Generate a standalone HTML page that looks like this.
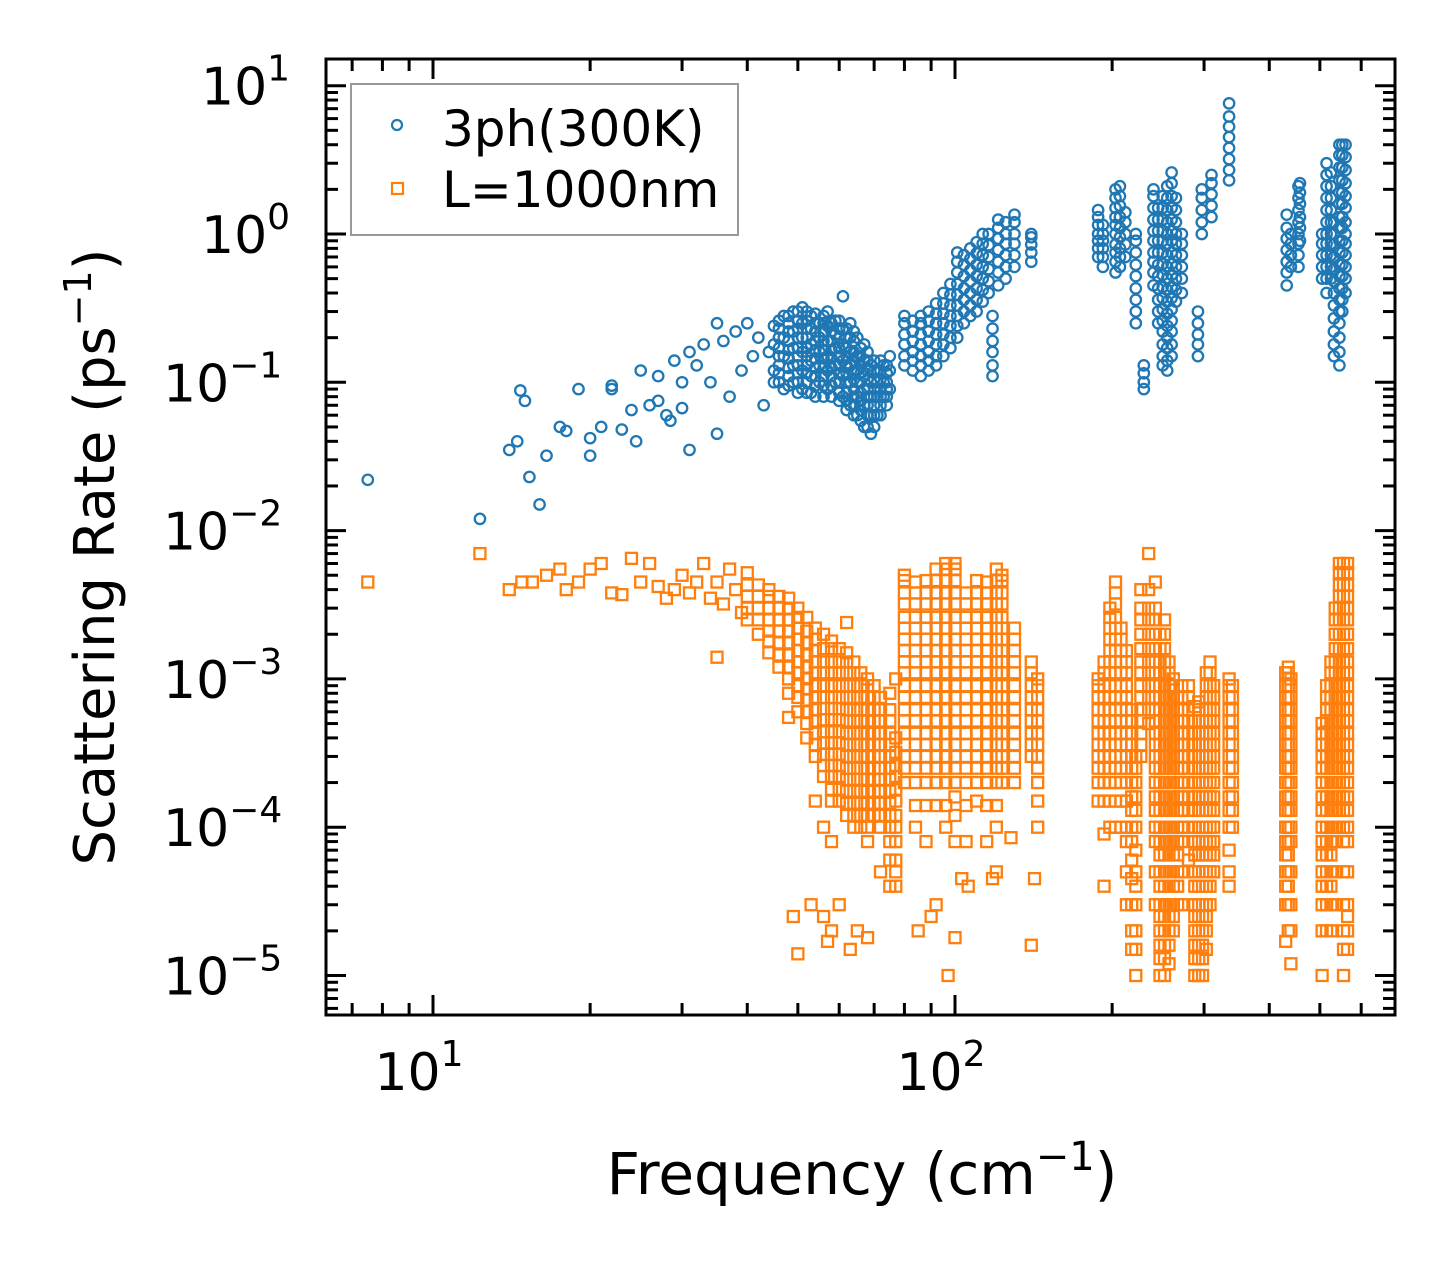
<!DOCTYPE html>
<html><head><meta charset="utf-8"><style>
body{margin:0;background:#fff;}
svg text{font-family:"DejaVu Sans","Liberation Sans",sans-serif;fill:#000;}
</style></head><body>
<svg id="chart" width="1455" height="1265" viewBox="0 0 1455 1265" xmlns="http://www.w3.org/2000/svg">
<rect width="1455" height="1265" fill="#fff"/>
<g id="marks"></g>
<g id="axes"></g>
<g>
<rect x="351" y="84" width="387" height="151" fill="#fff" stroke="#999" stroke-width="2"/>
<circle cx="397" cy="125" r="5" fill="none" stroke="#1f77b4" stroke-width="2.2"/>
<text x="442" y="146" font-size="50">3ph(300K)</text>
<rect x="392" y="183" width="11" height="11" fill="none" stroke="#ff7f0e" stroke-width="2.2"/>
<text x="442" y="207" font-size="50">L=1000nm</text>
</g>
<text x="862" y="1194" font-size="58" text-anchor="middle">Frequency (cm<tspan dy="-24" font-size="40">−1</tspan><tspan dy="24">)</tspan></text>
<text transform="translate(114,557) rotate(-90)" font-size="56" text-anchor="middle">Scattering Rate (ps<tspan dy="-23" font-size="38">−1</tspan><tspan dy="23">)</tspan></text>
</svg>
<script>
const threePhFreq = [7.5,12.3,14,14.5,14.7,15,15.3,16,16.5,17.5,18,19,20,20,21,22,22,23,24,24.5,25,26,27,27,28,28.5,29,30,30,31,31,32,33,34,35,35,36,37,38,39,40,41,42,43,44];
const threePhRate = [0.022,0.012,0.035,0.04,0.088,0.075,0.023,0.015,0.032,0.05,0.047,0.09,0.042,0.032,0.05,0.095,0.09,0.048,0.065,0.04,0.12,0.07,0.11,0.075,0.06,0.055,0.14,0.067,0.1,0.16,0.035,0.13,0.18,0.1,0.25,0.045,0.19,0.08,0.22,0.12,0.25,0.15,0.2,0.07,0.16];
const threePhClusterFreq = [45,47,49,51,53,55,57,59,61,63,65,67,69,71,73,75,
46,48,50,52,54,56,58,60,62,64,66,68,70,72,74,
80,83,86,89,92,95,98,101,104,107,110,113,116,118,121,125,130,140,
188,192,203,207,212,222,230,240,245,250,255,260,265,272,292,297,310,335,
432,440,455,458,505,515,525,532,545,552,560];
const threePhClusterRates = [
[0.12,0.18,0.24,0.1],[0.09,0.15,0.2,0.28],[0.1,0.13,0.17,0.22,0.3],[0.09,0.12,0.16,0.2,0.25,0.32],[0.085,0.11,0.14,0.18,0.23,0.28],[0.1,0.13,0.16,0.2,0.25],[0.09,0.12,0.15,0.19,0.24,0.3],[0.1,0.13,0.17,0.21,0.26],[0.08,0.11,0.14,0.18,0.23,0.38],[0.07,0.1,0.13,0.16,0.2,0.25],[0.06,0.08,0.1,0.12,0.15,0.2],[0.05,0.07,0.09,0.11,0.14,0.18],[0.045,0.06,0.08,0.1,0.13],[0.06,0.08,0.1,0.12],[0.08,0.1,0.13],[0.09,0.12,0.15],
[0.1,0.115,0.13,0.15,0.17,0.2,0.23,0.26],[0.095,0.11,0.125,0.145,0.165,0.19,0.22,0.25,0.28],[0.085,0.1,0.115,0.13,0.15,0.17,0.2,0.23,0.26,0.3],[0.085,0.1,0.115,0.13,0.15,0.17,0.2,0.23,0.26,0.3],[0.08,0.095,0.11,0.125,0.145,0.165,0.19,0.22,0.25,0.29],[0.08,0.095,0.11,0.125,0.145,0.165,0.19,0.22,0.25,0.28],[0.08,0.095,0.11,0.125,0.145,0.165,0.19,0.22,0.25],[0.075,0.085,0.1,0.115,0.13,0.15,0.17,0.2,0.23,0.26],[0.065,0.075,0.085,0.1,0.115,0.13,0.15,0.17,0.2,0.23],[0.06,0.07,0.08,0.09,0.105,0.12,0.14,0.16,0.19,0.22],[0.055,0.065,0.075,0.085,0.1,0.115,0.13,0.15,0.17],[0.05,0.06,0.07,0.08,0.09,0.105,0.12,0.14,0.16],[0.05,0.06,0.07,0.08,0.09,0.105,0.12,0.14],[0.06,0.07,0.08,0.09,0.105,0.12,0.14],[0.07,0.08,0.09,0.1,0.115,0.13],
[0.13,0.15,0.18,0.21,0.25,0.28],[0.12,0.14,0.16,0.19,0.22,0.26],[0.11,0.13,0.15,0.18,0.21,0.25,0.28],[0.12,0.14,0.16,0.19,0.22,0.26,0.3],[0.13,0.15,0.18,0.21,0.25,0.29,0.34],[0.15,0.18,0.21,0.25,0.29,0.34,0.4],[0.17,0.2,0.24,0.28,0.33,0.39,0.46],[0.2,0.24,0.28,0.33,0.39,0.46,0.55,0.65,0.75],[0.25,0.3,0.36,0.43,0.52,0.62,0.72],[0.28,0.33,0.4,0.48,0.57,0.68,0.8],[0.3,0.36,0.43,0.52,0.62,0.74,0.88],[0.35,0.42,0.5,0.6,0.72,0.86,1.0],[0.4,0.48,0.58,0.7,0.84,1.0],[0.11,0.13,0.16,0.19,0.23,0.28],[0.45,0.55,0.65,0.78,0.93,1.1,1.25],[0.5,0.6,0.72,0.86,1.0,1.2],[0.6,0.72,0.86,1.0,1.2,1.35],[0.65,0.75,0.85,0.95,1.0],
[0.7,0.8,0.9,1,1.15,1.3,1.45],[0.6,0.7,0.8,0.9,1.0,1.15],[0.55,0.65,0.75,0.85,1,1.15,1.3,1.5,1.75,2.0],[0.6,0.7,0.8,0.95,1.1,1.3,1.55,1.8,2.1],[0.7,0.85,1.0,1.2,1.4],[0.25,0.3,0.36,0.43,0.52,0.62,0.75,0.9,1.0],[0.09,0.1,0.115,0.13],[0.45,0.55,0.65,0.75,0.9,1.05,1.25,1.5,1.8,2.0],[0.25,0.3,0.36,0.43,0.52,0.62,0.75,0.9,1.05,1.25,1.5],[0.13,0.15,0.18,0.22,0.26,0.31,0.37,0.44,0.53,0.63,0.75,0.9,1.05,1.25,1.5,1.8],[0.12,0.14,0.17,0.2,0.24,0.29,0.35,0.42,0.5,0.6,0.72,0.86,1.0,1.2,1.45,1.75,2.1],[0.15,0.18,0.22,0.26,0.31,0.37,0.44,0.53,0.63,0.75,0.9,1.05,1.25,1.5,1.8,2.2,2.6],[0.35,0.42,0.5,0.6,0.72,0.86,1,1.2,1.45,1.75],[0.4,0.5,0.6,0.72,0.86,1.0],[0.15,0.18,0.21,0.25,0.3],[1.0,1.2,1.45,1.75,2.0],[1.3,1.55,1.85,2.2,2.5],[2.3,2.7,3.2,3.8,4.5,5.3,6.2,7.6],
[0.45,0.55,0.65,0.78,0.93,1.1,1.35],[0.6,0.72,0.86,1.0],[0.6,0.72,0.86,1.0,1.2,1.45,1.75,2.1],[0.9,1.1,1.3,1.6,1.9,2.2],[0.5,0.6,0.72,0.86,1.0],[0.4,0.5,0.6,0.72,0.86,1.0,1.2,1.45,1.75,2.1,2.5,3.0],[0.5,0.6,0.72,0.86,1.0,1.2,1.45,1.75,2.1,2.6],[0.15,0.18,0.22,0.27,0.33,0.4,0.48,0.58,0.7,0.85,1.0,1.2],[0.13,0.16,0.2,0.25,0.3,0.36,0.43,0.52,0.62,0.75,0.9,1.1,1.3,1.6,1.9,2.3,2.8,3.4,4.0],[0.3,0.36,0.43,0.52,0.62,0.75,0.9,1.1,1.3,1.6,1.9,2.3,2.8,3.4,4.0],[0.4,0.5,0.6,0.72,0.86,1.0,1.2,1.5,1.8,2.2,2.7,3.3,4.0]];
const lFreq = [7.5,12.3,14,14.8,15.5,16.5,17.5,18,19,20,21,22,23,24,25,26,27,28,29,30,31,32,33,34,35,35,36,37,38,39,49,50,53,56,57,58,60,63,65,68,85,90,92,97,100,103,106,118,128,140,142];
const lRate = [0.0045,0.007,0.004,0.0045,0.0045,0.005,0.0055,0.004,0.0045,0.0055,0.006,0.0038,0.0037,0.0065,0.0045,0.006,0.0042,0.0035,0.004,0.005,0.0038,0.0045,0.006,0.0035,0.0014,0.0045,0.0032,0.0055,0.004,0.0028,0.000025,0.000014,0.00003,0.000025,0.000017,0.00002,0.00003,0.000015,0.00002,0.000018,0.00002,0.000025,0.00003,0.00001,0.000018,0.000045,0.00004,0.000045,0.000085,0.000016,0.000045];
const lClusterFreq = [40,42,44,46,48,50,52,54,56,58,60,62,64,66,68,70,72,75,77,
80,84,88,92,96,100,105,110,115,120,123,130,140,144,
188,193,198,203,208,213,218,222,227,235,
242,247,252,257,262,267,272,280,
288,293,298,303,308,313,335,340,
430,435,440,505,515,525,535,545,555,565];
const lClusterRates = [
[2.5e-3,3e-3,3.6e-3,4.3e-3,5.2e-3],
[2e-3,2.5e-3,3e-3,3.6e-3,4.3e-3],
[1.5e-3,1.8e-3,2.1e-3,2.5e-3,3e-3,3.6e-3,4e-3],
[1.2e-3,1.45e-3,1.75e-3,2.1e-3,2.5e-3,3e-3,3.6e-3],
[5.5e-4,8e-4,1e-3,1.2e-3,1.45e-3,1.75e-3,2.1e-3,2.5e-3,3e-3,3.5e-3],
[6e-4,7.5e-4,9e-4,1.1e-3,1.3e-3,1.55e-3,1.85e-3,2.2e-3,2.6e-3,3e-3],
[4e-4,5e-4,6e-4,7.2e-4,8.6e-4,1e-3,1.2e-3,1.45e-3,1.75e-3,2.1e-3,2.6e-3],
[1.5e-4,3e-4,3.6e-4,4.3e-4,5.2e-4,6.2e-4,7.5e-4,9e-4,1.1e-3,1.3e-3,1.55e-3,1.85e-3,2.2e-3],
[1e-4,2.2e-4,2.6e-4,3.1e-4,3.7e-4,4.4e-4,5.3e-4,6.3e-4,7.5e-4,9e-4,1.1e-3,1.3e-3,1.6e-3,2e-3],
[8e-5,1.5e-4,1.8e-4,2.2e-4,2.6e-4,3.1e-4,3.7e-4,4.4e-4,5.3e-4,6.3e-4,7.5e-4,9e-4,1.1e-3,1.3e-3,1.6e-3,1.8e-3],
[1.5e-4,1.8e-4,2.2e-4,2.6e-4,3.1e-4,3.7e-4,4.4e-4,5.3e-4,6.3e-4,7.5e-4,9e-4,1.1e-3,1.3e-3,1.6e-3],
[1.2e-4,1.45e-4,1.75e-4,2.1e-4,2.5e-4,3e-4,3.6e-4,4.3e-4,5.2e-4,6.2e-4,7.5e-4,9e-4,1.1e-3,1.3e-3,1.5e-3,2.4e-3],
[1e-4,1.2e-4,1.45e-4,1.75e-4,2.1e-4,2.5e-4,3e-4,3.6e-4,4.3e-4,5.2e-4,6.2e-4,7.5e-4,9e-4,1.1e-3,1.3e-3],
[1e-4,1.2e-4,1.45e-4,1.75e-4,2.1e-4,2.5e-4,3e-4,3.6e-4,4.3e-4,5.2e-4,6.2e-4,7.5e-4,9e-4,1.1e-3],
[8e-5,1e-4,1.2e-4,1.45e-4,1.75e-4,2.1e-4,2.5e-4,3e-4,3.6e-4,4.3e-4,5.2e-4,6.2e-4,7.5e-4,9e-4,1e-3],
[1.2e-4,1.45e-4,1.75e-4,2.1e-4,2.5e-4,3e-4,3.6e-4,4.3e-4,5.2e-4,6.2e-4,7.5e-4,9e-4],
[5e-5,1e-4,1.2e-4,1.45e-4,1.75e-4,2.1e-4,2.5e-4,3e-4,3.6e-4,4.3e-4,5.2e-4,6.2e-4,7.5e-4],
[4e-5,6e-5,8e-5,1e-4,1.2e-4,1.45e-4,1.75e-4,2.1e-4,2.5e-4,3e-4,3.6e-4,4.3e-4,5.2e-4,6.2e-4,8e-4],
[4e-5,5e-5,6e-5,8e-5,1e-4,1.2e-4,1.5e-4,1.8e-4,2.2e-4,2.6e-4,3.2e-4,4e-4,1e-3],
[2e-4,2.5e-4,3e-4,3.6e-4,4.3e-4,5.2e-4,6.2e-4,7.5e-4,9e-4,1.1e-3,1.3e-3,1.55e-3,1.85e-3,2.2e-3,2.6e-3,3.2e-3,3.8e-3,4.6e-3,5e-3],
[1e-4,1.4e-4,2e-4,2.5e-4,3e-4,3.6e-4,4.3e-4,5.2e-4,6.2e-4,7.5e-4,9e-4,1.1e-3,1.3e-3,1.55e-3,1.85e-3,2.2e-3,2.6e-3,3.2e-3,3.8e-3,4.5e-3],
[8e-5,1.4e-4,2e-4,2.5e-4,3e-4,3.6e-4,4.3e-4,5.2e-4,6.2e-4,7.5e-4,9e-4,1.1e-3,1.3e-3,1.55e-3,1.85e-3,2.2e-3,2.6e-3,3.2e-3,3.8e-3,4.6e-3],
[1.4e-4,2e-4,2.5e-4,3e-4,3.6e-4,4.3e-4,5.2e-4,6.2e-4,7.5e-4,9e-4,1.1e-3,1.3e-3,1.55e-3,1.85e-3,2.2e-3,2.6e-3,3.2e-3,3.8e-3,4.6e-3,5.5e-3],
[1e-4,1.4e-4,2e-4,2.5e-4,3e-4,3.6e-4,4.3e-4,5.2e-4,6.2e-4,7.5e-4,9e-4,1.1e-3,1.3e-3,1.55e-3,1.85e-3,2.2e-3,2.6e-3,3.2e-3,3.8e-3,4.6e-3,5.5e-3,6e-3],
[8e-5,1.2e-4,1.6e-4,2e-4,2.5e-4,3e-4,3.6e-4,4.3e-4,5.2e-4,6.2e-4,7.5e-4,9e-4,1.1e-3,1.3e-3,1.55e-3,1.85e-3,2.2e-3,2.6e-3,3.2e-3,3.8e-3,4.6e-3,5.5e-3,6e-3],
[8e-5,1.4e-4,2e-4,2.5e-4,3e-4,3.6e-4,4.3e-4,5.2e-4,6.2e-4,7.5e-4,9e-4,1.1e-3,1.3e-3,1.55e-3,1.85e-3,2.2e-3,2.6e-3,3.2e-3,3.8e-3],
[1.5e-4,2e-4,2.5e-4,3e-4,3.6e-4,4.3e-4,5.2e-4,6.2e-4,7.5e-4,9e-4,1.1e-3,1.3e-3,1.55e-3,1.85e-3,2.2e-3,2.6e-3,3.2e-3,3.8e-3,4.6e-3],
[8e-5,1.4e-4,2e-4,2.5e-4,3e-4,3.6e-4,4.3e-4,5.2e-4,6.2e-4,7.5e-4,9e-4,1.1e-3,1.3e-3,1.55e-3,1.85e-3,2.2e-3,2.6e-3,3.2e-3,3.8e-3,4.5e-3],
[5e-5,1e-4,1.4e-4,2e-4,2.5e-4,3e-4,3.6e-4,4.3e-4,5.2e-4,6.2e-4,7.5e-4,9e-4,1.1e-3,1.3e-3,1.55e-3,1.85e-3,2.2e-3,2.6e-3,3.2e-3,3.8e-3,4.6e-3,5.5e-3],
[2e-4,2.5e-4,3e-4,3.6e-4,4.3e-4,5.2e-4,6.2e-4,7.5e-4,9e-4,1.1e-3,1.3e-3,1.55e-3,1.85e-3,2.2e-3,2.6e-3,3.2e-3,3.8e-3,4.6e-3,5e-3],
[2e-4,2.5e-4,3e-4,3.6e-4,4.3e-4,5.2e-4,6.2e-4,7.5e-4,9e-4,1.1e-3,1.3e-3,1.55e-3,1.85e-3,2.2e-3],
[3e-4,3.6e-4,4.3e-4,5.2e-4,6.2e-4,7.5e-4,9e-4,1.1e-3,1.3e-3],
[1e-4,1.5e-4,2e-4,2.5e-4,3e-4,3.6e-4,4.3e-4,5.2e-4,6.2e-4,7.5e-4,9e-4,1e-3],
[1.5e-4,2e-4,2.5e-4,3e-4,3.6e-4,4.3e-4,5.2e-4,6.2e-4,7.5e-4,9e-4,1e-3],
[4e-5,9e-5,1.5e-4,2e-4,2.5e-4,3e-4,3.6e-4,4.3e-4,5.2e-4,6.2e-4,7.5e-4,9e-4,1.1e-3,1.3e-3],
[1e-4,1.5e-4,2e-4,2.5e-4,3e-4,3.6e-4,4.3e-4,5.2e-4,6.2e-4,7.5e-4,9e-4,1.1e-3,1.3e-3,1.55e-3,1.85e-3,2.2e-3,2.6e-3,3e-3],
[1e-4,1.5e-4,2e-4,2.5e-4,3e-4,3.6e-4,4.3e-4,5.2e-4,6.2e-4,7.5e-4,9e-4,1.1e-3,1.3e-3,1.55e-3,1.85e-3,2.2e-3,2.6e-3,3.2e-3,3.8e-3,4.5e-3],
[1e-4,1.5e-4,2e-4,2.5e-4,3e-4,3.6e-4,4.3e-4,5.2e-4,6.2e-4,7.5e-4,9e-4,1.1e-3,1.3e-3,1.55e-3,1.85e-3,2.2e-3],
[3e-5,5e-5,8e-5,1e-4,1.5e-4,2e-4,2.5e-4,3e-4,3.6e-4,4.3e-4,5.2e-4,6.2e-4,7.5e-4,9e-4,1.1e-3,1.3e-3,1.55e-3],
[1.5e-5,2e-5,3e-5,4.5e-5,6e-5,8e-5,1e-4,1.3e-4,1.6e-4,2e-4,2.5e-4,3e-4,3.6e-4,4.3e-4,5.2e-4,6.2e-4],
[1e-5,1.5e-5,2e-5,3e-5,4e-5,5e-5,7e-5,1e-4,1.3e-4,1.6e-4,2e-4,2.5e-4,3e-4],
[3e-4,3.6e-4,4.3e-4,5.2e-4,6.2e-4,7.5e-4,9e-4,1.1e-3,1.3e-3,1.6e-3,2e-3,2.5e-3,3e-3,4e-3],
[5e-4,6.2e-4,7.5e-4,9e-4,1.1e-3,1.3e-3,1.6e-3,2e-3,2.5e-3,3e-3,4e-3,7e-3],
[3e-5,5e-5,8e-5,1e-4,1.3e-4,1.6e-4,2e-4,2.5e-4,3e-4,3.6e-4,4.3e-4,5.2e-4,6.2e-4,7.5e-4,9e-4,1.1e-3,1.3e-3,1.6e-3,2e-3,2.5e-3,3e-3,4.5e-3],
[1e-5,1.3e-5,1.6e-5,2e-5,2.5e-5,3e-5,4e-5,5e-5,6.5e-5,8e-5,1e-4,1.3e-4,1.6e-4,2e-4,2.5e-4,3e-4,3.6e-4,4.3e-4,5.2e-4,6.2e-4,7.5e-4,9e-4,1.1e-3,1.3e-3,1.6e-3,2e-3],
[1e-5,1.3e-5,1.6e-5,2e-5,2.5e-5,3e-5,4e-5,5e-5,6.5e-5,8e-5,1e-4,1.3e-4,1.6e-4,2e-4,2.5e-4,3e-4,3.6e-4,4.3e-4,5.2e-4,6.2e-4,7.5e-4,9e-4,1.1e-3,1.3e-3,1.6e-3,2e-3,2.5e-3],
[1.2e-5,1.6e-5,2e-5,2.5e-5,3e-5,4e-5,5e-5,6.5e-5,8e-5,1e-4,1.3e-4,1.6e-4,2e-4,2.5e-4,3e-4,3.6e-4,4.3e-4,5.2e-4,6.2e-4,7.5e-4,9e-4,1.1e-3,1.3e-3],
[2e-5,2.5e-5,3e-5,4e-5,5e-5,6.5e-5,8e-5,1e-4,1.3e-4,1.6e-4,2e-4,2.5e-4,3e-4,3.6e-4,4.3e-4,5.2e-4,6.2e-4,7.5e-4,9e-4,1e-3],
[3e-5,4e-5,5e-5,6.5e-5,8e-5,1e-4,1.3e-4,1.6e-4,2e-4,2.5e-4,3e-4,3.6e-4,4.3e-4,5.2e-4,6.2e-4,7.5e-4],
[3e-5,5e-5,8e-5,1e-4,1.3e-4,1.6e-4,2e-4,2.5e-4,3e-4,3.6e-4,4.3e-4,5.2e-4,6.2e-4,7.5e-4,9e-4],
[6e-5,1e-4,1.3e-4,1.6e-4,2e-4,2.5e-4,3e-4,3.6e-4,4.3e-4,5.2e-4,6.2e-4,7.5e-4,9e-4],
[1e-5,1.3e-5,1.6e-5,2e-5,2.5e-5,3e-5,4e-5,5e-5,6.5e-5,8e-5,1e-4,1.3e-4,1.6e-4,2e-4,2.5e-4,3e-4,3.6e-4,4.3e-4,5.2e-4,6.5e-4],
[1e-5,1.3e-5,1.6e-5,2e-5,2.5e-5,3e-5,4e-5,5e-5,6.5e-5,8e-5,1e-4,1.3e-4,1.6e-4,2e-4,2.5e-4,3e-4,3.6e-4,4.3e-4,5.2e-4,6.2e-4,7e-4],
[1e-5,1.3e-5,1.6e-5,2e-5,2.5e-5,3e-5,4e-5,5e-5,6.5e-5,8e-5,1e-4,1.3e-4,1.6e-4,2e-4,2.5e-4,3e-4,3.6e-4,4.3e-4,5.2e-4],
[1.5e-5,2e-5,2.5e-5,3e-5,4e-5,5e-5,6.5e-5,8e-5,1e-4,1.3e-4,1.6e-4,2e-4,2.5e-4,3e-4,3.6e-4,4.3e-4,5.2e-4,6.2e-4,7.5e-4,9e-4,1.1e-3],
[3e-5,4e-5,5e-5,6.5e-5,8e-5,1e-4,1.3e-4,1.6e-4,2e-4,2.5e-4,3e-4,3.6e-4,4.3e-4,5.2e-4,6.2e-4,7.5e-4,9e-4,1.1e-3,1.3e-3],
[5e-5,6.5e-5,8e-5,1e-4,1.3e-4,1.6e-4,2e-4,2.5e-4,3e-4,3.6e-4,4.3e-4,5.2e-4,6.2e-4,7.5e-4,9e-4],
[4e-5,5e-5,7e-5,1e-4,1.3e-4,1.6e-4,2e-4,2.5e-4,3e-4,3.6e-4,4.3e-4,5.2e-4,6.2e-4,7.5e-4,9e-4,1e-3],
[1e-4,1.3e-4,1.6e-4,2e-4,2.5e-4,3e-4,3.6e-4,4.3e-4,5.2e-4,6.2e-4,7.5e-4,9e-4],
[1.7e-5,3e-5,4e-5,5e-5,6.5e-5,8e-5,1e-4,1.3e-4,1.6e-4,2e-4,2.5e-4,3e-4,3.6e-4,4.3e-4,5.2e-4,6.2e-4,7.5e-4,9e-4,1.1e-3],
[2e-5,3e-5,4e-5,5e-5,6.5e-5,8e-5,1e-4,1.3e-4,1.6e-4,2e-4,2.5e-4,3e-4,3.6e-4,4.3e-4,5.2e-4,6.2e-4,7.5e-4,9e-4,1.1e-3,1.2e-3],
[1.2e-5,2e-5,3e-5,5e-5,8e-5,1e-4,1.3e-4,1.6e-4,2e-4,2.5e-4,3e-4,3.6e-4,4.3e-4,5.2e-4,6.2e-4,7.5e-4,9e-4,1e-3],
[1e-5,2e-5,3e-5,4e-5,5e-5,6.5e-5,8e-5,1e-4,1.3e-4,1.6e-4,2e-4,2.5e-4,3e-4,3.6e-4,4.3e-4,5e-4],
[2e-5,3e-5,4e-5,5e-5,6.5e-5,8e-5,1e-4,1.3e-4,1.6e-4,2e-4,2.5e-4,3e-4,3.6e-4,4.3e-4,5.2e-4,6.2e-4,7.5e-4,9e-4],
[2e-5,3e-5,4e-5,5e-5,6.5e-5,8e-5,1e-4,1.3e-4,1.6e-4,2e-4,2.5e-4,3e-4,3.6e-4,4.3e-4,5.2e-4,6.2e-4,7.5e-4,9e-4,1.1e-3,1.3e-3],
[3e-5,5e-5,8e-5,1e-4,1.3e-4,1.6e-4,2e-4,2.5e-4,3e-4,3.6e-4,4.3e-4,5.2e-4,6.2e-4,7.5e-4,9e-4,1.1e-3,1.3e-3,1.6e-3,2e-3,2.5e-3,3e-3],
[1e-4,1.3e-4,1.6e-4,2e-4,2.5e-4,3e-4,3.6e-4,4.3e-4,5.2e-4,6.2e-4,7.5e-4,9e-4,1.1e-3,1.3e-3,1.6e-3,2e-3,2.5e-3,3e-3,3.6e-3,4.3e-3,5.2e-3,6e-3],
[1e-5,1.5e-5,2e-5,3e-5,5e-5,8e-5,1e-4,1.3e-4,1.6e-4,2e-4,2.5e-4,3e-4,3.6e-4,4.3e-4,5.2e-4,6.2e-4,7.5e-4,9e-4,1.1e-3,1.3e-3,1.6e-3,2e-3,2.5e-3,3e-3,3.6e-3,4.3e-3,5.2e-3,6e-3],
[1.5e-5,2e-5,2.5e-5,3e-5,5e-5,8e-5,1e-4,1.3e-4,1.6e-4,2e-4,2.5e-4,3e-4,3.6e-4,4.3e-4,5.2e-4,6.2e-4,7.5e-4,9e-4,1.1e-3,1.3e-3,1.6e-3,2e-3,2.5e-3,3e-3,3.6e-3,4.3e-3,5.2e-3,6e-3]];
const xTickValues = [10,100];
const xTickLabels = ["1","2"];
const yTickExps = [1,0,-1,-2,-3,-4,-5];

const NS="http://www.w3.org/2000/svg";
const L=326,R=1395,T=59,B=1015;
const X0=433, XD=522, Y0=234, YD=148.3;
function xs(f){return X0+(Math.log10(f)-1)*XD;}
function ys(r){return Y0-Math.log10(r)*YD;}
function mk(tag,attrs,parent){const e=document.createElementNS(NS,tag);for(const k in attrs)e.setAttribute(k,attrs[k]);parent.appendChild(e);return e;}
const marks=document.getElementById('marks');
const gB=mk('g',{},marks);


const gO=mk('g',{},marks);


function circ(f,r){const c=mk('circle',{cx:xs(f),cy:ys(r),r:5.2,fill:'none',stroke:'#1f77b4','stroke-width':2.3},gB);

}
function sq(f,r){const s=mk('rect',{x:xs(f)-5.5,y:ys(r)-5.5,width:11,height:11,fill:'none',stroke:'#ff7f0e','stroke-width':2.3},gO);

}
lFreq.forEach((f,i)=>sq(f,lRate[i]));
lClusterFreq.forEach((f,i)=>(lClusterRates[i]||[]).forEach(r=>sq(f,r)));
threePhFreq.forEach((f,i)=>circ(f,threePhRate[i]));
threePhClusterFreq.forEach((f,i)=>(threePhClusterRates[i]||[]).forEach(r=>circ(f,r)));

const axes=document.getElementById('axes');
const frame=mk('rect',{x:L,y:T,width:R-L,height:B-T,fill:'none',stroke:'#000','stroke-width':3},axes);


function tick(x1,y1,x2,y2){mk('line',{x1,y1,x2,y2,stroke:'#000','stroke-width':3},axes);}
for(let d=0;d<=2;d++){for(let m=1;m<=9;m++){const v=m*Math.pow(10,d);const x=xs(v);if(x<L+1||x>R-1)continue;const len=m===1?20:12;tick(x,B,x,B-len);tick(x,T,x,T+len);}}
xTickValues.forEach((v,i)=>{const t=mk('text',{x:xs(v)-14,y:1090,'font-size':52,'text-anchor':'middle'},axes);t.textContent='10';


const s=mk('tspan',{dy:-24,'font-size':36},t);s.textContent=xTickLabels[i];});
for(let e=-6;e<=1;e++){for(let m=1;m<=9;m++){const v=m*Math.pow(10,e);const y=ys(v);if(y<T+1||y>B-1)continue;const len=m===1?20:12;tick(L,y,L+len,y);tick(R,y,R-len,y);}}
yTickExps.forEach(e=>{const y=ys(Math.pow(10,e));const t=mk('text',{x:e<0?163:201,y:y+19,'font-size':52},axes);t.textContent='10';


const s=mk('tspan',{dy:-24,'font-size':36},t);s.textContent=e<0?'−'+(-e):String(e);});
</script>
</body></html>
